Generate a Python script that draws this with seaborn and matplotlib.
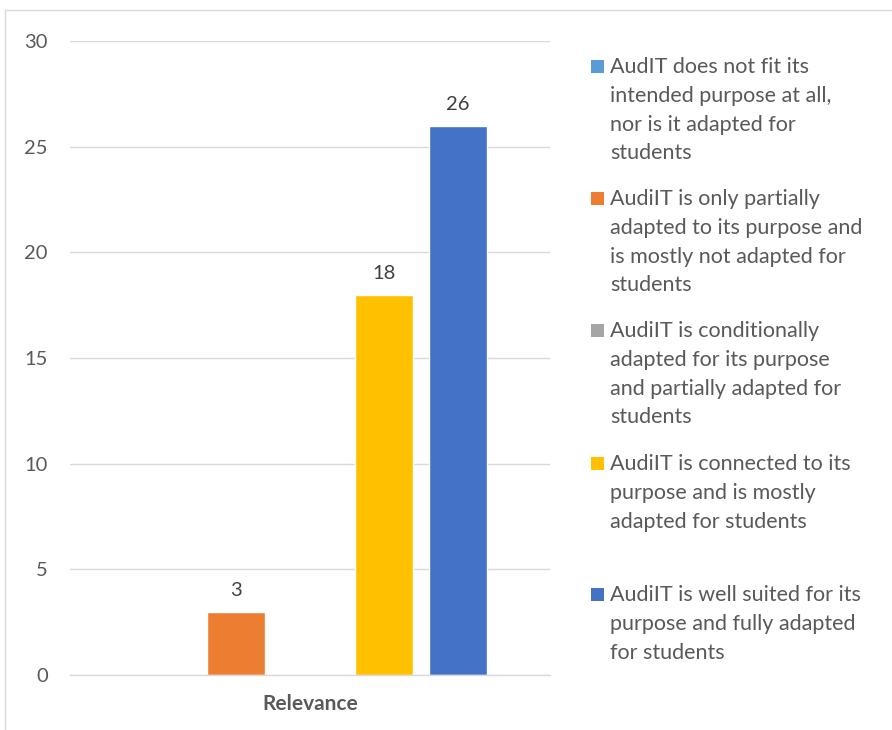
import matplotlib
matplotlib.use("Agg")
import matplotlib.pyplot as plt
import seaborn as sns
import pandas as pd
from matplotlib.patches import Rectangle

categories = ["Relevance"]
series = [
    "AudIT does not fit its\nintended purpose at all,\nnor is it adapted for\nstudents",
    "AudiIT is only partially\nadapted to its purpose and\nis mostly not adapted for\nstudents",
    "AudiIT is conditionally\nadapted for its purpose\nand partially adapted for\nstudents",
    "AudiIT is connected to its\npurpose and is mostly\nadapted for students",
    "AudiIT is well suited for its\npurpose and fully adapted\nfor students",
]
values = [0, 3, 0, 18, 26]
colors = ["#5B9BD5", "#ED7D31", "#A5A5A5", "#FFC000", "#4472C4"]
yticks = [0, 5, 10, 15, 20, 25, 30]

df = pd.DataFrame({"category": categories * len(series), "series": series, "value": values})

sns.set_theme(style="white")
plt.rcParams["font.family"] = ["Lato", "DejaVu Sans"]

fig = plt.figure(figsize=(8.92, 7.3), dpi=100)
ax = fig.add_axes([0.0785, 0.0753, 0.538, 0.8685])

sns.barplot(data=df, x="category", y="value", hue="series", hue_order=series,
            palette=colors, width=0.77, gap=0.22, legend=False, ax=ax,
            saturation=1, errorbar=None)

ax.set_ylim(0, 30)
ax.set_xlim(-0.5, 0.5)
ax.set_yticks(yticks)
ax.set_yticklabels([str(t) for t in yticks], fontsize=14.5, color="#595959")
ax.tick_params(axis="y", length=0, pad=16)
ax.tick_params(axis="x", length=0, pad=14)
ax.set_xticks([0])
ax.set_xticklabels(categories, fontsize=15, fontweight="bold", color="#595959")
ax.set_xlabel("")
ax.set_ylabel("")
ax.yaxis.grid(True, color="#D9D9D9", linewidth=1)
ax.set_axisbelow(True)
for s in ["top", "right", "left"]:
    ax.spines[s].set_visible(False)
ax.spines["bottom"].set_color("#D9D9D9")
ax.spines["bottom"].set_linewidth(1)

for cont in ax.containers:
    labels = [f"{v:g}" if v != 0 else "" for v in cont.datavalues]
    ax.bar_label(cont, labels=labels, padding=9, fontsize=14.5, color="#404040")

# legend (manual, markers aligned with first line)
first_line_y = [66, 198, 330, 463, 594]
W, H = 892, 730
for lab, col, yy in zip(series, colors, first_line_y):
    fig.patches.append(Rectangle((591 / W, 1 - (yy + 6.5) / H), 13 / W, 13 / H,
                                 transform=fig.transFigure, facecolor=col,
                                 edgecolor="none", figure=fig))
    fig.text(610 / W, 1 - (yy - 9) / H, lab, fontsize=15.5, color="#595959",
             va="top", ha="left", linespacing=1.55)

# chart border
fig.patches.append(Rectangle((5 / W, -0.05), 1.2, 1 - 10 / H + 0.05,
                             transform=fig.transFigure, facecolor="none",
                             edgecolor="#D9D9D9", linewidth=1, figure=fig))

fig.savefig("out.png", dpi=100)
